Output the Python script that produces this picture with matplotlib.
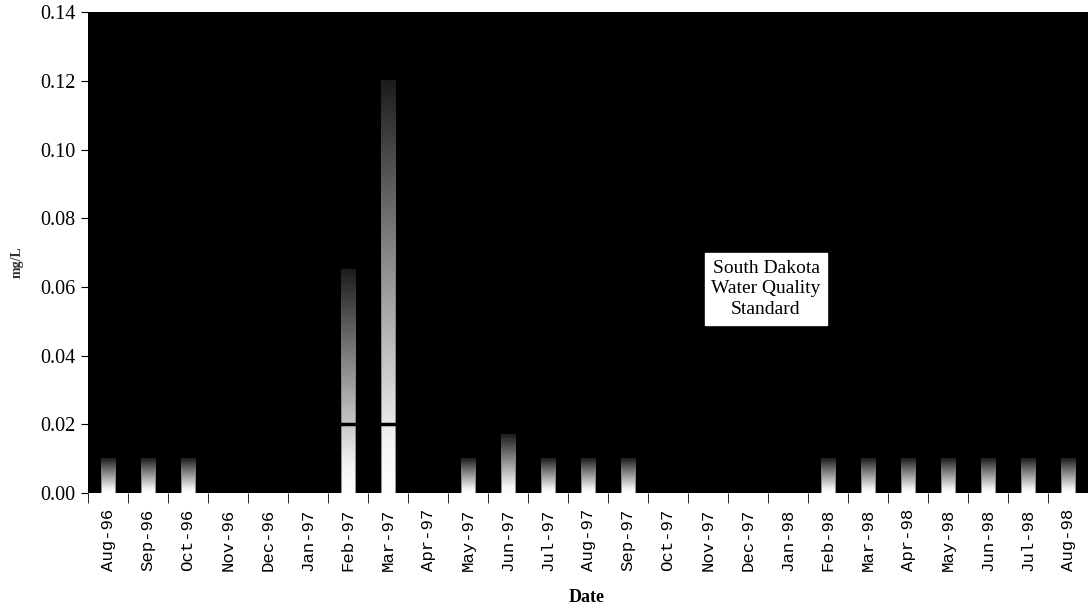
import matplotlib
matplotlib.use('Agg')
import matplotlib.pyplot as plt
import numpy as np
from matplotlib.colors import LinearSegmentedColormap

months = ['Aug-96', 'Sep-96', 'Oct-96', 'Nov-96', 'Dec-96', 'Jan-97', 'Feb-97',
          'Mar-97', 'Apr-97', 'May-97', 'Jun-97', 'Jul-97', 'Aug-97', 'Sep-97',
          'Oct-97', 'Nov-97', 'Dec-97', 'Jan-98', 'Feb-98', 'Mar-98', 'Apr-98',
          'May-98', 'Jun-98', 'Jul-98', 'Aug-98']
values = [0.01, 0.01, 0.01, 0, 0, 0, 0.065,
          0.12, 0, 0.01, 0.017, 0.01, 0.01, 0.01,
          0, 0, 0, 0, 0.01, 0.01, 0.01,
          0.01, 0.01, 0.01, 0.01]
standard = 0.02

fig = plt.figure(figsize=(10.88, 6.09), dpi=100)
ax = fig.add_axes([0.0809, 0.1905, 0.9191, 0.7895])
ax.set_facecolor('black')

# white at the bottom fading to dark grey at the top of each bar
cmap = LinearSegmentedColormap.from_list('fade', [(0, '#ffffff'), (0.12, '#f4f4f4'),
                                                  (0.5, '#9a9a9a'), (1, '#1c1c1c')])
grad = np.linspace(0, 1, 256).reshape(-1, 1)
bw = 0.36
for i, v in enumerate(values):
    if v <= 0:
        continue
    ax.imshow(grad, cmap=cmap, vmin=0, vmax=1, aspect='auto',
              origin='lower', extent=(i - bw / 2, i + bw / 2, 0, v),
              interpolation='bilinear', zorder=2)
    # faint grey sides on each bar
    ax.vlines([i - bw / 2, i + bw / 2], 0, v * 0.6, colors='#808080',
              linewidth=0.6, zorder=2.5)

# standard line (only visible across the bars on black background)
ax.hlines(standard, -0.5, len(months) - 0.5, colors='black', linewidth=2.5, zorder=3)

ax.set_xlim(-0.5, len(months) - 0.5)
ax.set_ylim(0, 0.14)
ax.set_yticks(np.arange(0, 0.141, 0.02))
ax.set_yticklabels(['%.2f' % t for t in np.arange(0, 0.141, 0.02)],
                   family='Liberation Serif', fontsize=14.5)
ax.set_xticks(np.arange(len(months)))
ax.set_xticklabels(months, rotation=90, family='Liberation Mono', fontsize=12.5)
ax.set_xticks(np.arange(len(months) + 1) - 0.5, minor=True)
ax.tick_params(axis='x', which='major', length=0, pad=11)
ax.tick_params(axis='x', which='minor', length=7, direction='out')
ax.tick_params(axis='y', length=5, direction='out', pad=4)
for s in ax.spines.values():
    s.set_visible(False)

ax.text(16.45, 0.0594, 'South Dakota\nWater Quality\nStandard', ha='center', va='center',
        family='Liberation Serif', fontsize=14, linespacing=1.3,
        bbox=dict(boxstyle='square,pad=0.35', facecolor='white', edgecolor='white'))

fig.text(0.5395, 1 - 598 / 609, 'Date', ha='center', va='center',
         family='Liberation Serif', fontweight='bold', fontsize=13)
fig.text(0.016, 1 - 262 / 609, 'mg/L', rotation=90, ha='center', va='center',
         family='Liberation Serif', fontweight='bold', fontsize=10, color='#333333')

fig.savefig('out.png', dpi=100, facecolor='white')
